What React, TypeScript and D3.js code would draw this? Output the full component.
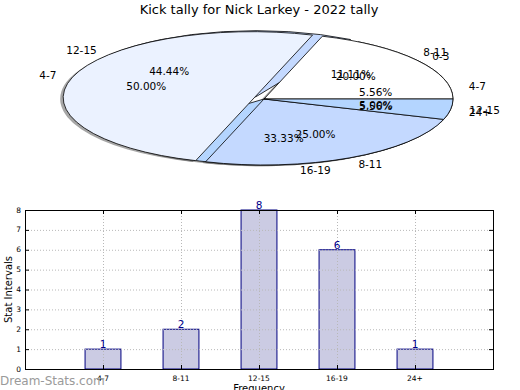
import React, { useEffect, useRef } from "react";
import * as d3 from "d3";

// back pie and bar chart share the same tally
const barCats = ["4-7", "8-11", "12-15", "16-19", "24+"];
const barVals = [1, 2, 8, 6, 1];
// second pie drawn over the first
const frontCats = ["0-3", "4-7", "8-11", "12-15"];
const frontVals = [4, 10, 5, 1];
const yTicks = [0, 1, 2, 3, 4, 5, 6, 7, 8];
const sliceColors = ["#ffffff", "#ebf2ff", "#c4d9ff", "#b4d5ff"];

const W = 520;
const H = 390;
const FONT = "DejaVu Sans, sans-serif";

export default function App() {
  const ref = useRef<SVGSVGElement>(null);

  useEffect(() => {
    const svg = d3.select(ref.current);
    svg.selectAll("*").remove();

    svg.append("rect").attr("width", W).attr("height", H).attr("fill", "#fff");

    svg.append("text")
      .attr("x", 259).attr("y", 14)
      .attr("text-anchor", "middle")
      .style("font", `13px ${FONT}`)
      .text("Kick tally for Nick Larkey - 2022 tally");

    // ---- pie (matplotlib-like: ccw from 3 o'clock, stretched into an ellipse)
    const cx = 264, cy = 99, rx = 189, ry = 66;
    const explode = 0.055;

    const pieGen = d3.pie<number>().sort(null).startAngle(0).endAngle(2 * Math.PI);
    const arcGen = d3.arc<any>().innerRadius(0).outerRadius(1);

    const layout = (vals: number[], cats: string[]) => {
      const total = d3.sum(vals);
      const maxV = d3.max(vals) as number;
      return pieGen(vals).map((p, i) => {
        const mid = (p.startAngle + p.endAngle) / 2;
        const e = vals[i] === maxV ? explode : 0;
        return {
          t0: p.startAngle, t1: p.endAngle, mid,
          ox: e * rx * Math.cos(mid), oy: -e * ry * Math.sin(mid),
          pct: ((vals[i] / total) * 100).toFixed(2) + "%",
          label: cats[i],
          color: sliceColors[i % sliceColors.length],
        };
      });
    };

    const back = layout(barVals, barCats);
    const front = layout(frontVals, frontCats);

    const pathOf = (s: any) =>
      arcGen({ startAngle: Math.PI / 2 - s.t1, endAngle: Math.PI / 2 - s.t0 }) as string;

    const pieG = svg.append("g");
    // shadows below all wedges
    [...back, ...front].forEach((s) => {
      pieG.append("path")
        .attr("d", pathOf(s))
        .attr("transform", `translate(${cx + s.ox - 3},${cy + s.oy + 1.3}) scale(${rx},${ry})`)
        .attr("fill", "#4d4d4d")
        .attr("fill-opacity", 0.5);
    });
    [back, front].forEach((slices) => {
      slices.forEach((s) => {
        pieG.append("path")
          .attr("d", pathOf(s))
          .attr("transform", `translate(${cx + s.ox},${cy + s.oy}) scale(${rx},${ry})`)
          .attr("fill", s.color)
          .attr("stroke", "#000")
          .attr("stroke-width", 0.8)
          .attr("vector-effect", "non-scaling-stroke");
      });
    });
    [back, front].forEach((slices) => {
      slices.forEach((s) => {
        const c = Math.cos(s.mid), n = Math.sin(s.mid);
        pieG.append("text")
          .attr("x", cx + s.ox + 0.6 * rx * c)
          .attr("y", cy + s.oy - 0.6 * ry * n)
          .attr("text-anchor", "middle")
          .attr("dominant-baseline", "central")
          .style("font", `10.5px ${FONT}`)
          .text(s.pct);
        const lx = cx + s.ox + 1.1 * rx * c;
        pieG.append("text")
          .attr("x", lx)
          .attr("y", cy + s.oy - 1.1 * ry * n)
          .attr("text-anchor", lx > cx ? "start" : "end")
          .attr("dominant-baseline", "central")
          .style("font", `10.5px ${FONT}`)
          .text(s.label);
      });
    });

    // ---- bar chart
    const left = 25, right = 493, top = 210, bottom = 369;
    const x = d3.scaleLinear().domain([-1, 5]).range([left, right]);
    const y = d3.scaleLinear().domain([0, 8]).range([bottom, top]);
    const bw = 0.46;

    const g = svg.append("g");
    g.selectAll("rect.bar")
      .data(barVals)
      .enter()
      .append("rect")
      .attr("class", "bar")
      .attr("x", (d, i) => x(i - bw / 2))
      .attr("y", (d) => y(d))
      .attr("width", x(bw) - x(0))
      .attr("height", (d) => y(0) - y(d))
      .attr("fill", "#cbcbe3")
      .attr("stroke", "#000080")
      .attr("stroke-width", 1);

    // dotted grid
    g.selectAll("line.hg")
      .data(yTicks.slice(1, -1))
      .enter()
      .append("line")
      .attr("x1", left).attr("x2", right)
      .attr("y1", (d) => y(d) + 0.5).attr("y2", (d) => y(d) + 0.5)
      .attr("stroke", "#b8b8b8").attr("stroke-dasharray", "1,2");
    g.selectAll("line.vg")
      .data(barCats)
      .enter()
      .append("line")
      .attr("x1", (d, i) => x(i) + 0.5).attr("x2", (d, i) => x(i) + 0.5)
      .attr("y1", top).attr("y2", bottom)
      .attr("stroke", "#b8b8b8").attr("stroke-dasharray", "1,2");

    // value labels
    g.selectAll("text.val")
      .data(barVals)
      .enter()
      .append("text")
      .attr("x", (d, i) => x(i))
      .attr("y", (d) => y(d) - 1)
      .attr("text-anchor", "middle")
      .attr("fill", "#00008b")
      .style("font", `10.5px ${FONT}`)
      .text((d) => d);

    // frame
    g.append("rect")
      .attr("x", left + 0.5).attr("y", top + 0.5)
      .attr("width", right - left).attr("height", bottom - top)
      .attr("fill", "none").attr("stroke", "#000").attr("stroke-width", 1);

    // ticks inside both sides
    yTicks.forEach((t) => {
      const yy = y(t) + 0.5;
      g.append("line").attr("x1", left).attr("x2", left + 4).attr("y1", yy).attr("y2", yy).attr("stroke", "#000");
      g.append("line").attr("x1", right - 4).attr("x2", right).attr("y1", yy).attr("y2", yy).attr("stroke", "#000");
      g.append("text")
        .attr("x", left - 4).attr("y", y(t))
        .attr("text-anchor", "end")
        .attr("dominant-baseline", "central")
        .style("font", `7.5px ${FONT}`)
        .text(t);
    });
    barCats.forEach((c, i) => {
      const xx = x(i) + 0.5;
      g.append("line").attr("x1", xx).attr("x2", xx).attr("y1", bottom).attr("y2", bottom - 4).attr("stroke", "#000");
      g.append("line").attr("x1", xx).attr("x2", xx).attr("y1", top).attr("y2", top + 4).attr("stroke", "#000");
      g.append("text")
        .attr("x", x(i)).attr("y", bottom + 12)
        .attr("text-anchor", "middle")
        .style("font", `7.5px ${FONT}`)
        .text(c);
    });

    g.append("text")
      .attr("transform", `translate(12,${(top + bottom) / 2}) rotate(-90)`)
      .attr("text-anchor", "middle")
      .style("font", `10px ${FONT}`)
      .text("Stat Intervals");
    g.append("text")
      .attr("x", (left + right) / 2).attr("y", 392)
      .attr("text-anchor", "middle")
      .style("font", `10px ${FONT}`)
      .text("Frequency");

    svg.append("text")
      .attr("x", 0).attr("y", 385)
      .attr("fill", "#9a9a9a")
      .style("font", `12px ${FONT}`)
      .text("Dream-Stats.com");
  }, []);

  return (
    <svg
      ref={ref}
      width={W}
      height={H}
      style={{ position: "absolute", left: 0, top: 0, display: "block" }}
    />
  );
}
